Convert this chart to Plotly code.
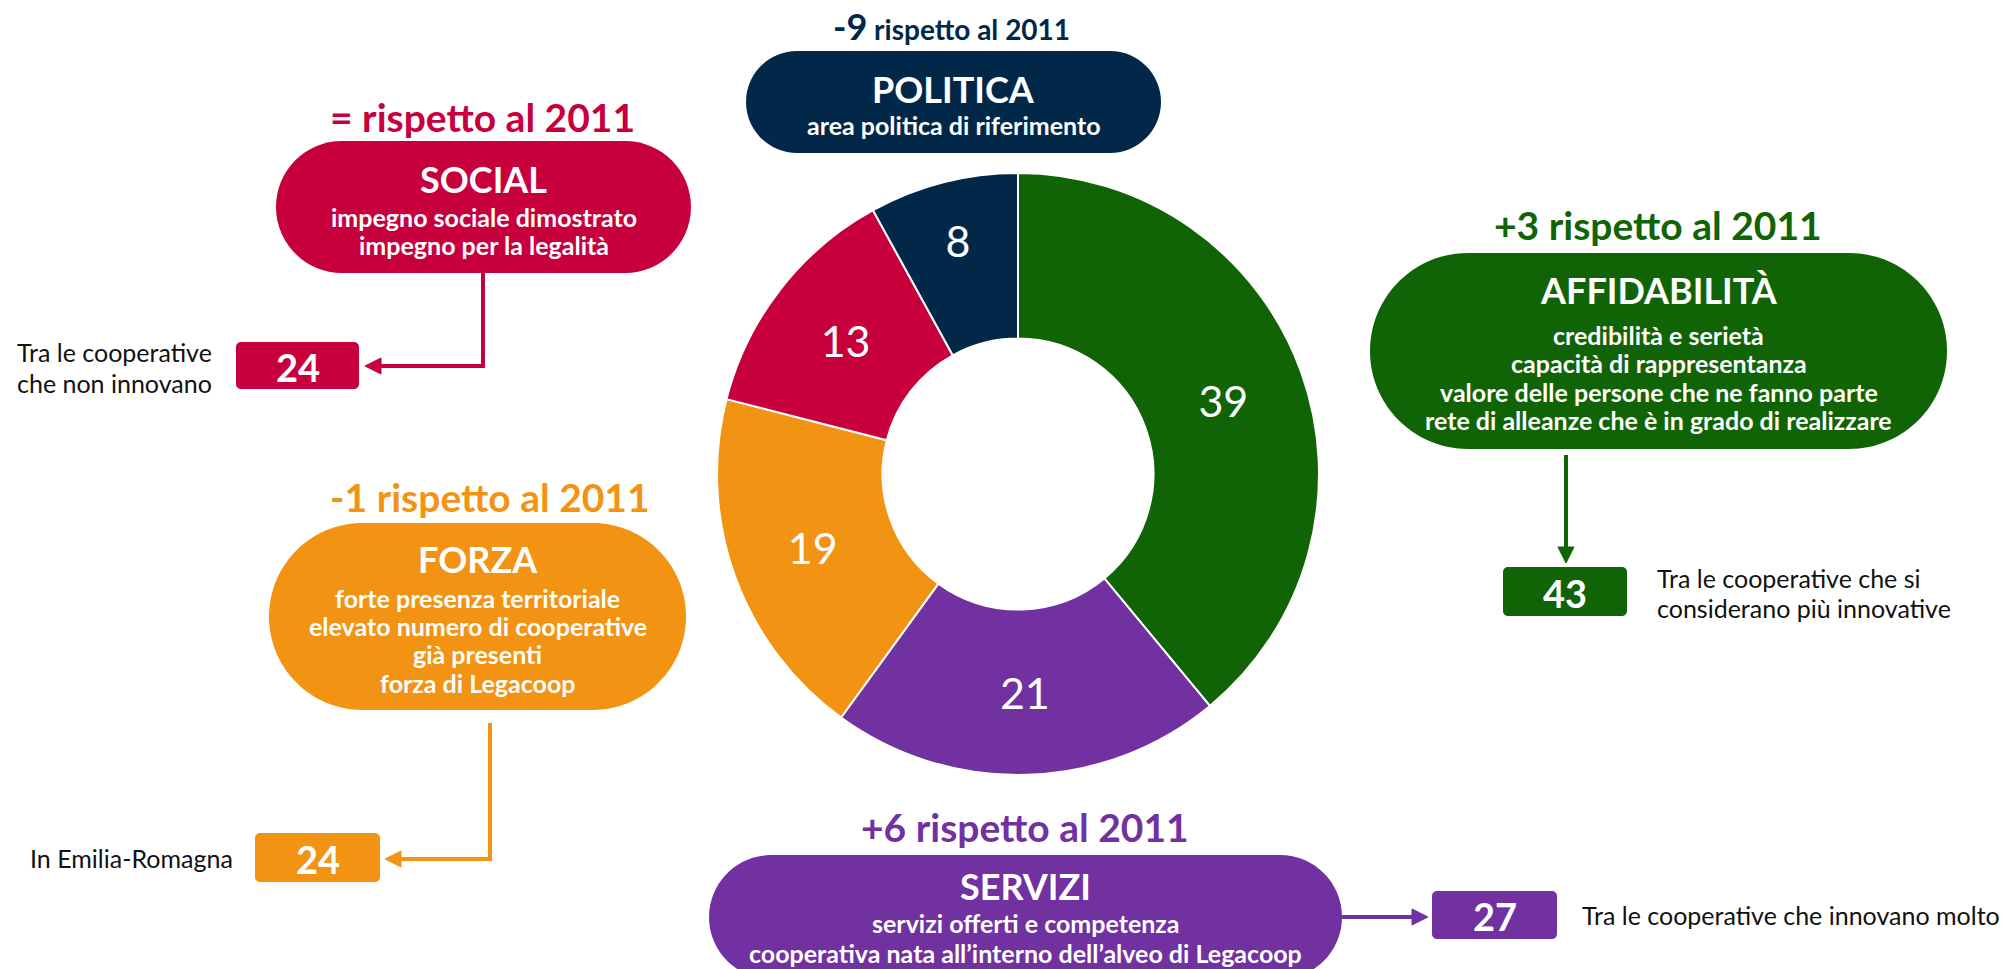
import plotly.graph_objects as go

W, H = 2002, 969
FONT = "Lato"

# ---------------- data ----------------
categories = ["AFFIDABILITÀ", "SERVIZI", "FORZA", "SOCIAL", "POLITICA"]
shares = [39, 21, 19, 13, 8]
deltas = ["+3", "+6", "-1", "=", "-9"]
delta_suffix = "rispetto al 2011"
subtitles = [
    ["credibilità e serietà", "capacità di rappresentanza",
     "valore delle persone che ne fanno parte",
     "rete di alleanze che è in grado di realizzare"],
    ["servizi offerti e competenza",
     "cooperativa nata all’interno dell’alveo di Legacoop"],
    ["forte presenza territoriale", "elevato numero di cooperative",
     "già presenti", "forza di Legacoop"],
    ["impegno sociale dimostrato", "impegno per la legalità"],
    ["area politica di riferimento"],
]
highlight_values = [43, 27, 24, 24, None]
highlight_notes = [
    ["Tra le cooperative che si", "considerano più innovative"],
    ["Tra le cooperative che innovano molto"],
    ["In Emilia-Romagna"],
    ["Tra le cooperative", "che non innovano"],
    None,
]

# ---------------- styles / layout positions (pixels) ----------------
colors = ["#116405", "#7131A0", "#F39313", "#C7003D", "#022849"]

layout_cfg = {
    "AFFIDABILITÀ": dict(box=(1370, 253, 1947, 449), head=(1658, 225), title_y=290,
                         lines_y=[335, 363, 392, 420], vbox=(1503, 567, 1627, 616),
                         note=(1655, [578, 608]), path=[(1566, 455), (1566, 563)]),
    "SERVIZI": dict(box=(709, 855, 1342, 979), head=(1025, 827), title_y=886,
                    lines_y=[923, 953], vbox=(1432, 891, 1557, 939),
                    note=(1580, [915]), path=[(1342, 917), (1428, 917)]),
    "FORZA": dict(box=(269, 523, 686, 710), head=(490, 497), title_y=559,
                  lines_y=[598, 626, 654, 683], vbox=(255, 833, 380, 882),
                  note=(28, [858]), path=[(490, 723), (490, 859), (385, 859)]),
    "SOCIAL": dict(box=(276, 141, 691, 273), head=(482, 117), title_y=179,
                   lines_y=[217, 245], vbox=(236, 342, 359, 389),
                   note=(15, [352, 383]), path=[(483, 273), (483, 366), (365, 366)]),
    "POLITICA": dict(box=(746, 51, 1161, 153), head=(951, 26), title_y=89,
                     lines_y=[125], vbox=None, note=None, path=None, small_head=True),
}

DONUT_C = (1018, 474)
DONUT_R = 301


def fx(x):
    return x / W


def fy(y):
    return 1 - y / H


def P(x, y):
    return f"{fx(x):.5f},{fy(y):.5f}"


def rrect(x0, y0, x1, y1, r):
    k = 0.5523 * r
    return (f"M {P(x0 + r, y0)} L {P(x1 - r, y0)} "
            f"C {P(x1 - r + k, y0)} {P(x1, y0 + r - k)} {P(x1, y0 + r)} "
            f"L {P(x1, y1 - r)} "
            f"C {P(x1, y1 - r + k)} {P(x1 - r + k, y1)} {P(x1 - r, y1)} "
            f"L {P(x0 + r, y1)} "
            f"C {P(x0 + r - k, y1)} {P(x0, y1 - r + k)} {P(x0, y1 - r)} "
            f"L {P(x0, y0 + r)} "
            f"C {P(x0, y0 + r - k)} {P(x0 + r - k, y0)} {P(x0 + r, y0)} Z")


def arrow_shapes(pts, color):
    # line up to the base of the arrowhead, then a filled triangle
    L, hw = 16, 8
    (xa, ya), (xb, yb) = pts[-2], pts[-1]
    dx, dy = xb - xa, yb - ya
    n = (dx * dx + dy * dy) ** 0.5
    ux, uy = dx / n, dy / n
    bx, by = xb - ux * L, yb - uy * L
    line_pts = pts[:-1] + [(bx, by)]
    d = "M " + " L ".join(P(x, y) for x, y in line_pts)
    tri = (f"M {P(xb, yb)} L {P(bx - uy * hw, by + ux * hw)} "
           f"L {P(bx + uy * hw, by - ux * hw)} Z")
    return [
        dict(type="path", xref="paper", yref="paper", path=d,
             line=dict(color=color, width=4), layer="below"),
        dict(type="path", xref="paper", yref="paper", path=tri,
             fillcolor=color, line=dict(color=color, width=1)),
    ]


shapes, annotations = [], []


def text(x, y, s, size, color, bold=False, xanchor="center"):
    annotations.append(dict(
        x=fx(x), y=fy(y), xref="paper", yref="paper", text=(f"<b>{s}</b>" if bold else s),
        showarrow=False, xanchor=xanchor, yanchor="middle",
        font=dict(family=FONT, size=size, color=color)))


for i, cat in enumerate(categories):
    cfg = layout_cfg[cat]
    col = colors[i]
    x0, y0, x1, y1 = cfg["box"]
    cx = (x0 + x1) / 2
    r = min((y1 - y0) / 2, (x1 - x0) / 2)
    shapes.append(dict(type="path", xref="paper", yref="paper", path=rrect(x0, y0, x1, y1, r),
                       fillcolor=col, line=dict(width=0), layer="below"))
    # header
    hx, hy = cfg["head"]
    if cfg.get("small_head"):
        htxt = f"<span style='font-size:36px'>{deltas[i]}</span> {delta_suffix}"
        text(hx, hy, htxt, 28, col, bold=True)
    else:
        text(hx, hy, f"{deltas[i]} {delta_suffix}", 39, col, bold=True)
    # title + subtitle lines
    text(cx, cfg["title_y"], cat, 36, "white", bold=True)
    for line, ly in zip(subtitles[i], cfg["lines_y"]):
        text(cx, ly, line, 25, "white", bold=True)
    # highlight value box
    if cfg["vbox"] is not None:
        vx0, vy0, vx1, vy1 = cfg["vbox"]
        shapes.append(dict(type="path", xref="paper", yref="paper",
                           path=rrect(vx0, vy0, vx1, vy1, 5), fillcolor=col, line=dict(width=0)))
        text((vx0 + vx1) / 2, (vy0 + vy1) / 2 + 1, str(highlight_values[i]), 38, "white", bold=True)
        nx, nys = cfg["note"]
        for line, ny in zip(highlight_notes[i], nys):
            text(nx, ny, line, 25, "#111111", xanchor="left")
        shapes.extend(arrow_shapes(cfg["path"], col))

fig = go.Figure()
fig.add_trace(go.Pie(
    values=shares, labels=categories, sort=False, direction="clockwise", rotation=0,
    hole=0.45, marker=dict(colors=colors, line=dict(color="white", width=2)),
    textinfo="value", textposition="inside", insidetextorientation="horizontal",
    textfont=dict(family=FONT, size=43, color="white"),
    domain=dict(x=[fx(DONUT_C[0] - DONUT_R), fx(DONUT_C[0] + DONUT_R)],
                y=[fy(DONUT_C[1] + DONUT_R), fy(DONUT_C[1] - DONUT_R)]),
    showlegend=False, hoverinfo="label+value",
))

fig.update_layout(
    width=W, height=H, margin=dict(l=0, r=0, t=0, b=0),
    paper_bgcolor="white", plot_bgcolor="white",
    shapes=shapes, annotations=annotations,
    font=dict(family=FONT),
)

fig.write_html("out.html", config={"displayModeBar": False},
               post_script="document.body.style.margin='0';document.body.style.overflow='hidden';")
